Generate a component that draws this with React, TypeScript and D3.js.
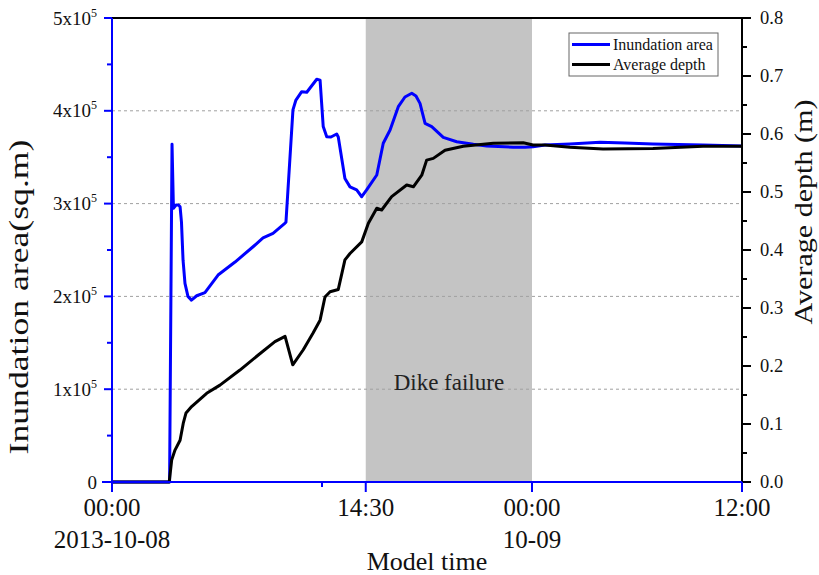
import React from "react";
import * as d3 from "d3";

// Hours since 2013-10-08 00:00 and inundated area (sq.m)
const areaTime = [0, 3.29, 3.43, 3.51, 3.66, 3.8, 3.89, 3.97, 4.06, 4.17, 4.34, 4.54, 4.84, 5.31, 6.06, 7.03, 8.06, 8.63, 9.2, 9.89, 9.94, 10.34, 10.51, 10.84, 11.13, 11.7, 11.89, 12.07, 12.27, 12.51, 12.84, 12.93, 13.31, 13.6, 13.98, 14.27, 14.55, 15.13, 15.5, 15.89, 16.36, 16.74, 17.13, 17.37, 17.6, 17.89, 18.27, 18.93, 19.7, 20.65, 21.41, 22.93, 23.6, 24.06, 24.74, 26.17, 27.89, 29.31, 30.91, 33.77, 36];
const areaValue = [0, 0, 364000, 295000, 298500, 298500, 296600, 280000, 239000, 214000, 200000, 196000, 200700, 204000, 223000, 237000, 253500, 263000, 268000, 279000, 280000, 401000, 411600, 420600, 420000, 434000, 433000, 383000, 372000, 371800, 375000, 371800, 327000, 318000, 314700, 307400, 314700, 330800, 365000, 379300, 404400, 414900, 418900, 416000, 408000, 386500, 382900, 371400, 366700, 363900, 362100, 360700, 360700, 361300, 363200, 364200, 366000, 365300, 364200, 363200, 362100];

// Hours since 2013-10-08 00:00 and average water depth (m)
const depthTime = [0, 3.27, 3.41, 3.6, 3.89, 4.07, 4.23, 4.55, 5.41, 6.17, 7.31, 8.36, 9.31, 9.89, 10.33, 10.93, 11.49, 11.89, 12.17, 12.46, 12.93, 13.31, 13.6, 14.27, 14.65, 15.13, 15.41, 15.98, 16.84, 17.22, 17.7, 17.98, 18.36, 19.03, 20.07, 21.79, 23.5, 24.06, 24.74, 26.17, 28.06, 30.91, 33.77, 36];
const depthValue = [0, 0, 0.038, 0.055, 0.072, 0.101, 0.119, 0.13, 0.153, 0.167, 0.193, 0.219, 0.242, 0.251, 0.202, 0.228, 0.257, 0.279, 0.319, 0.328, 0.332, 0.383, 0.394, 0.414, 0.446, 0.472, 0.469, 0.492, 0.512, 0.509, 0.529, 0.555, 0.558, 0.572, 0.579, 0.584, 0.585, 0.581, 0.581, 0.577, 0.574, 0.575, 0.579, 0.579];

// Time axis
const xMajorTicks = [0, 14.5, 24, 36];
const xTickLabels = ["00:00", "14:30", "00:00", "12:00"];
const xTickDates = ["2013-10-08", "", "10-09", ""];
const xMinorTicks = [12];

// Left axis (area)
const areaTicks = [0, 100000, 200000, 300000, 400000, 500000];
const areaTickMantissa = ["0", "1x10", "2x10", "3x10", "4x10", "5x10"];
const areaMinorTicks = [50000, 150000, 250000, 350000, 450000];
const areaGrid = [100000, 200000, 300000, 400000];

// Right axis (depth)
const depthTicks = [0, 0.1, 0.2, 0.3, 0.4, 0.5, 0.6, 0.7, 0.8];
const depthMinorTicks = [0.05, 0.15, 0.25, 0.35, 0.45, 0.55, 0.65, 0.75];

// Dike failure window (hours)
const dikeWindow = [14.5, 24];

const seriesNames = ["Inundation area", "Average depth"];
const seriesColors = ["#0000ff", "#000000"];

const W = 819;
const H = 575;
const M = { left: 112, right: 77, top: 18, bottom: 93 };
const FONT = "'Liberation Serif', 'Times New Roman', serif";

export default function App() {
  const x = d3.scaleLinear().domain([0, 36]).range([M.left, W - M.right]);
  const yA = d3.scaleLinear().domain([0, 500000]).range([H - M.bottom, M.top]);
  const yD = d3.scaleLinear().domain([0, 0.8]).range([H - M.bottom, M.top]);

  const areaPts = areaTime.map((t, i) => [t, areaValue[i]] as [number, number]);
  const depthPts = depthTime.map((t, i) => [t, depthValue[i]] as [number, number]);

  const areaLine = d3.line<[number, number]>().x((d) => x(d[0])).y((d) => yA(d[1]))(areaPts) || "";
  const depthLine = d3.line<[number, number]>().x((d) => x(d[0])).y((d) => yD(d[1]))(depthPts) || "";

  const x0 = x.range()[0];
  const x1 = x.range()[1];
  const yb = yA.range()[0];
  const yt = yA.range()[1];

  const legX = 569;
  const legY = 33;

  return (
    <svg width={W} height={H} style={{ position: "absolute", left: 0, top: 0, background: "#fff" }} fontFamily={FONT}>
      {/* dike failure window */}
      <rect x={x(dikeWindow[0])} y={yt} width={x(dikeWindow[1]) - x(dikeWindow[0])} height={yb - yt} fill="#c4c4c4" />

      {/* horizontal grid */}
      {areaGrid.map((v) => (
        <line key={v} x1={x0} x2={x1} y1={yA(v)} y2={yA(v)} stroke="#a0a0a0" strokeWidth={1} strokeDasharray="3,3" />
      ))}

      <text x={(x(dikeWindow[0]) + x(dikeWindow[1])) / 2} y={390} textAnchor="middle" fontSize={23} fill="#222">
        Dike failure
      </text>

      {/* series */}
      <path d={areaLine} fill="none" stroke={seriesColors[0]} strokeWidth={3} strokeLinejoin="round" />
      <path d={depthLine} fill="none" stroke={seriesColors[1]} strokeWidth={3} strokeLinejoin="round" />

      {/* frame */}
      <line x1={x0} x2={x1} y1={yt} y2={yt} stroke="#000" strokeWidth={2} />
      <line x1={x1} x2={x1} y1={yt} y2={yb} stroke="#000" strokeWidth={2} />

      {/* right axis ticks */}
      {depthTicks.map((v) => (
        <g key={v}>
          <line x1={x1} x2={x1 + 9} y1={yD(v)} y2={yD(v)} stroke="#000" strokeWidth={2} />
          <text x={x1 + 18} y={yD(v)} dy="0.35em" fontSize={18.5} fill="#111">
            {v.toFixed(1)}
          </text>
        </g>
      ))}
      {depthMinorTicks.map((v) => (
        <line key={v} x1={x1} x2={x1 + 5} y1={yD(v)} y2={yD(v)} stroke="#000" strokeWidth={2} />
      ))}

      {/* bottom axis */}
      <line x1={x0 - 10} x2={x1} y1={yb} y2={yb} stroke="#0000ff" strokeWidth={2} />
      {xMajorTicks.map((t, i) => (
        <g key={t}>
          <line x1={x(t)} x2={x(t)} y1={yb} y2={yb + 10} stroke="#0000ff" strokeWidth={2} />
          <text x={x(t)} y={516} textAnchor="middle" fontSize={25} fill="#111">
            {xTickLabels[i]}
          </text>
          {xTickDates[i] && (
            <text x={x(t)} y={548} textAnchor="middle" fontSize={25} fill="#111">
              {xTickDates[i]}
            </text>
          )}
        </g>
      ))}
      {xMinorTicks.map((t) => (
        <line key={t} x1={x(t)} x2={x(t)} y1={yb} y2={yb + 5} stroke="#0000ff" strokeWidth={2} />
      ))}

      {/* left axis */}
      <line x1={x0} x2={x0} y1={yt} y2={yb} stroke="#0000ff" strokeWidth={2} />
      {areaTicks.map((v, i) => (
        <g key={v}>
          <line x1={x0 - 8} x2={x0} y1={yA(v)} y2={yA(v)} stroke="#0000ff" strokeWidth={2} />
          <text x={97} y={yA(v)} dy="0.35em" textAnchor="end" fontSize={19} fill="#111">
            {areaTickMantissa[i]}
            {v > 0 && (
              <tspan dy={-8} fontSize={12}>
                5
              </tspan>
            )}
          </text>
        </g>
      ))}
      {areaMinorTicks.map((v) => (
        <line key={v} x1={x0 - 5} x2={x0} y1={yA(v)} y2={yA(v)} stroke="#0000ff" strokeWidth={2} />
      ))}

      {/* axis titles */}
      <text transform={`translate(28,297) rotate(-90)`} textAnchor="middle" fontSize={27} textLength={315} lengthAdjust="spacingAndGlyphs" fill="#111">
        Inundation area(sq.m)
      </text>
      <text transform={`translate(812,212) rotate(-90)`} textAnchor="middle" fontSize={26} textLength={225} lengthAdjust="spacingAndGlyphs" fill="#111">
        Average depth (m)
      </text>
      <text x={(x0 + x1) / 2} y={570} textAnchor="middle" fontSize={26} fill="#111">
        Model time
      </text>

      {/* legend */}
      <rect x={legX} y={legY} width={149} height={43} fill="#fff" stroke="#666" strokeWidth={1} />
      {seriesNames.map((name, i) => (
        <g key={name}>
          <line x1={legX + 3} x2={legX + 41} y1={legY + 11.5 + i * 20} y2={legY + 11.5 + i * 20} stroke={seriesColors[i]} strokeWidth={3} />
          <text x={legX + 44} y={legY + 11.5 + i * 20} dy="0.35em" fontSize={16} fill="#111">
            {name}
          </text>
        </g>
      ))}
    </svg>
  );
}
